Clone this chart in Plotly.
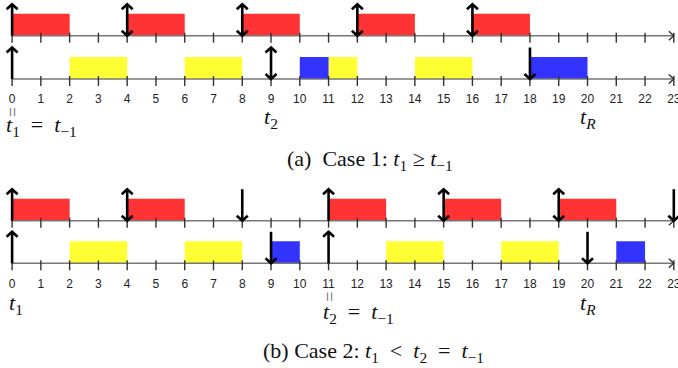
import plotly.graph_objects as go

# ---------------- data ----------------
ticks = list(range(24))
tick_labels = [str(t) for t in ticks]

# Case 1 (panel a)
a_red = [(0, 2), (4, 6), (8, 10), (12, 14), (16, 18)]
a_yellow = [(2, 4), (6, 8), (11, 12), (14, 16)]
a_blue = [(10, 11), (18, 20)]
a_top_up = [0]
a_top_both = [4, 8, 12, 16]
a_top_down = []
a_bot_up = [0]
a_bot_both = [9]
a_bot_down = [18]

# Case 2 (panel b)
b_red = [(0, 2), (4, 6), (11, 13), (15, 17), (19, 21)]
b_yellow = [(2, 4), (6, 8), (13, 15), (17, 19)]
b_blue = [(9, 10), (21, 22)]
b_top_up = [0, 11]
b_top_both = [4, 15, 19]
b_top_down = [8, 23]
b_bot_up = [0, 11]
b_bot_both = []
b_bot_down = [9, 20]

# ---------------- layout constants (pixels) ----------------
W, H = 678, 368
U = 28.77          # px per time unit
X0 = 12.1          # px position of t=0
BAR_H = 22
ARR_L = 31.5
HW = 5.5 / U       # arrow head half width (data units)
HH = 5.0           # arrow head height (px)

AX_A_TOP, AX_A_BOT = 35.7, 79.0
AX_B_TOP, AX_B_BOT = 220.7, 263.3
LBL_A, LBL_B = 100, 285

RED, YEL, BLU = "#FF3333", "#FFFF33", "#3333FF"

fig = go.Figure()


def add_rects(intervals, base, color):
    xs, ys = [], []
    for s, e in intervals:
        xs += [s, e, e, s, s, None]
        ys += [base, base, base - BAR_H, base - BAR_H, base, None]
    fig.add_trace(go.Scatter(x=xs, y=ys, mode="lines", fill="toself",
                             fillcolor=color, line=dict(width=0, color=color),
                             hoverinfo="skip", showlegend=False))


def add_axis(base):
    fig.add_trace(go.Scatter(x=[0, 23], y=[base, base], mode="lines",
                             line=dict(color="#777777", width=1.6),
                             hoverinfo="skip", showlegend=False))
    xs, ys = [], []
    for t in ticks:
        xs += [t, t, None]
        ys += [base - 3, base + 7, None]
    cw = 5.0 / U
    xs += [23 - cw, 23, 23 - cw, None]
    ys += [base - 4.5, base, base + 4.5, None]
    fig.add_trace(go.Scatter(x=xs, y=ys, mode="lines",
                             line=dict(color="#333333", width=1.4),
                             hoverinfo="skip", showlegend=False))


def add_arrows(base, ups, boths, downs):
    xs, ys = [], []
    top = base - ARR_L
    for p in ups + boths + downs:
        xs += [p, p, None]
        ys += [base, top, None]
    for p in ups + boths:
        xs += [p - HW, p, p + HW, None]
        ys += [top + HH, top, top + HH, None]
    for p in downs + boths:
        xs += [p - HW, p, p + HW, None]
        ys += [base - HH, base, base - HH, None]
    fig.add_trace(go.Scatter(x=xs, y=ys, mode="lines",
                             line=dict(color="black", width=2.6),
                             hoverinfo="skip", showlegend=False))


def add_tick_labels(y):
    fig.add_trace(go.Scatter(x=ticks, y=[y] * len(ticks), mode="text",
                             text=tick_labels,
                             textfont=dict(family="Liberation Sans", size=12, color="#222222"),
                             hoverinfo="skip", showlegend=False))


# panel a
add_rects(a_red, AX_A_TOP, RED)
add_rects(a_yellow, AX_A_BOT, YEL)
add_rects(a_blue, AX_A_BOT, BLU)
add_axis(AX_A_TOP)
add_axis(AX_A_BOT)
add_arrows(AX_A_TOP, a_top_up, a_top_both, a_top_down)
add_arrows(AX_A_BOT, a_bot_up, a_bot_both, a_bot_down)
add_tick_labels(LBL_A)

# panel b
add_rects(b_red, AX_B_TOP, RED)
add_rects(b_yellow, AX_B_BOT, YEL)
add_rects(b_blue, AX_B_BOT, BLU)
add_axis(AX_B_TOP)
add_axis(AX_B_BOT)
add_arrows(AX_B_TOP, b_top_up, b_top_both, b_top_down)
add_arrows(AX_B_BOT, b_bot_up, b_bot_both, b_bot_down)
add_tick_labels(LBL_B)

MATH = dict(family="Liberation Serif", size=22, color="#111111")
CAP = dict(family="Liberation Serif", size=22, color="#111111")
EQV = dict(family="Liberation Serif", size=18, color="#666666")

SP = "&nbsp;"


def px2x(px):
    return (px - X0) / U


def ann(x, y, text, font, xanchor="center", angle=0):
    fig.add_annotation(x=x, y=y, xref="x", yref="y", text=text, showarrow=False,
                       font=font, xanchor=xanchor, yanchor="middle", textangle=angle)


# panel a labels
ann(0, 112, "=", EQV, angle=90)
ann(px2x(4), 126, f"<i>t</i><sub>1</sub>{SP}{SP}={SP}{SP}<i>t</i><sub>−1</sub>", MATH, xanchor="left")
ann(9, 118, "<i>t</i><sub>2</sub>", MATH)
ann(20, 118, "<i>t</i><sub><i>R</i></sub>", MATH)
ann(px2x(370), 160,
    f"(a){SP}{SP}Case 1: <i>t</i><sub>1</sub>{SP}≥{SP}<i>t</i><sub>−1</sub>", CAP)

# panel b labels
ann(0.15, 304, "<i>t</i><sub>1</sub>", MATH)
ann(11, 296, "=", EQV, angle=90)
ann(px2x(321), 313, f"<i>t</i><sub>2</sub>{SP}{SP}={SP}{SP}<i>t</i><sub>−1</sub>", MATH, xanchor="left")
ann(20, 304, "<i>t</i><sub><i>R</i></sub>", MATH)
ann(px2x(373), 352,
    f"(b) Case 2: <i>t</i><sub>1</sub>{SP}{SP}&lt;{SP}{SP}<i>t</i><sub>2</sub>{SP}{SP}={SP}{SP}<i>t</i><sub>−1</sub>", CAP)

fig.update_layout(
    width=W, height=H,
    margin=dict(l=0, r=0, t=0, b=0),
    paper_bgcolor="white", plot_bgcolor="white",
    xaxis=dict(range=[px2x(0), px2x(W)], visible=False, fixedrange=True),
    yaxis=dict(range=[H, 0], visible=False, fixedrange=True),
    showlegend=False,
)

fig.write_html("out.html", config={"displayModeBar": False},
               post_script="document.body.style.margin='0';document.body.style.overflow='hidden';")
